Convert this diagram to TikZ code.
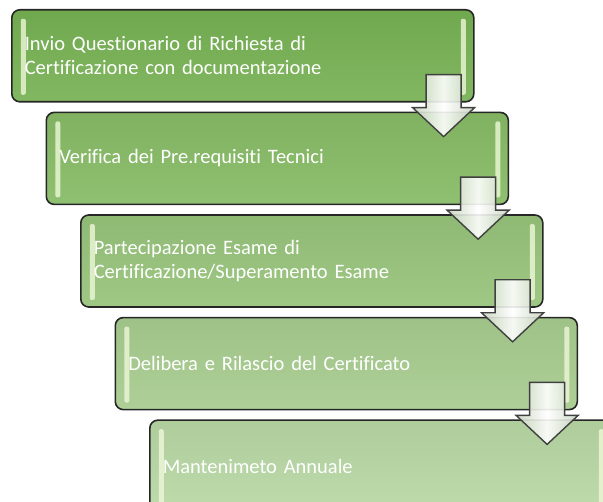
\documentclass[tikz,border=0pt]{standalone}
\usepackage{fontspec}
\setmainfont{Carlito}[Ligatures=NoCommon]
\usetikzlibrary{calc, positioning, shapes}

\definecolor{gA}{HTML}{76B153}
\definecolor{gB}{HTML}{86BB65}
\definecolor{gC}{HTML}{96C37A}
\definecolor{gD}{HTML}{A7CC8F}
\definecolor{gE}{HTML}{B8D8A4}
\definecolor{glint}{HTML}{EEF8D8}
\definecolor{arrowside}{HTML}{C9D5C0}

\newcommand{\stepfont}{\fontsize{20.5}{24}\selectfont\spaceskip 3.6pt\relax}

\tikzset{
	stepbox/.style={draw=black!85, line width=1.6pt, rounded corners=8pt,
		top color=#1!95!black, bottom color=#1!92!white,
		minimum height=92pt, text width=436pt, inner xsep=13pt, align=left,
		text=white, font=\stepfont, anchor=north west,
		path picture={
			\fill[glint, fill opacity=0.8, rounded corners=2pt] ([xshift=9pt, yshift=-9pt]path picture bounding box.north west) rectangle ([xshift=14pt, yshift=7pt]path picture bounding box.south west);
			\fill[glint, fill opacity=0.8, rounded corners=2pt] ([xshift=-8pt, yshift=-9pt]path picture bounding box.north east) rectangle ([xshift=-13pt, yshift=7pt]path picture bounding box.south east);
		}},
	flowarrow/.style={draw=black!75, line width=1.4pt, line join=miter,
		left color=arrowside, right color=arrowside, middle color=white, fill opacity=0.9,
		to path={let \p1=(\tikztostart), \p2=(\tikztotarget) in
			(\x1-17.5pt,\y1) -- (\x1+17.5pt,\y1) -- (\x1+17.5pt,\y2+29pt) -- (\x1+31pt,\y2+29pt)
			-- (\x1,\y2) -- (\x1-31pt,\y2+29pt) -- (\x1-17.5pt,\y2+29pt) -- cycle}}
}

\begin{document}
\begin{tikzpicture}[x=1pt, y=-1pt, node distance=9pt]

\clip (0,0) rectangle (603,502);

\node[stepbox=gA] (ask) at (11,9) {Invio Questionario di Richiesta di\\Certificazione con documentazione};
\node[stepbox=gB, below=of ask.south west, anchor=north west, xshift=34.5pt] (check) {Verifica dei Pre.requisiti Tecnici};
\node[stepbox=gC, below=of check.south west, anchor=north west, xshift=34.5pt] (exam) {Partecipazione Esame di\\Certificazione/Superamento Esame};
\node[stepbox=gD, below=of exam.south west, anchor=north west, xshift=34.5pt] (issue) {Delibera e Rilascio del Certificato};
\node[stepbox=gE, below=of issue.south west, anchor=north west, xshift=34.5pt] (keep) {Mantenimeto Annuale};

% block arrows between the steps
\draw[flowarrow] ([xshift=-31pt, yshift=28pt]ask.south east) to ([yshift=-25pt]check.north);
\draw[flowarrow] ([xshift=-31pt, yshift=28pt]check.south east) to ([yshift=-25pt]exam.north);
\draw[flowarrow] ([xshift=-31pt, yshift=28pt]exam.south east) to ([yshift=-25pt]issue.north);
\draw[flowarrow] ([xshift=-31pt, yshift=28pt]issue.south east) to ([yshift=-25pt]keep.north);

\end{tikzpicture}
\end{document}
